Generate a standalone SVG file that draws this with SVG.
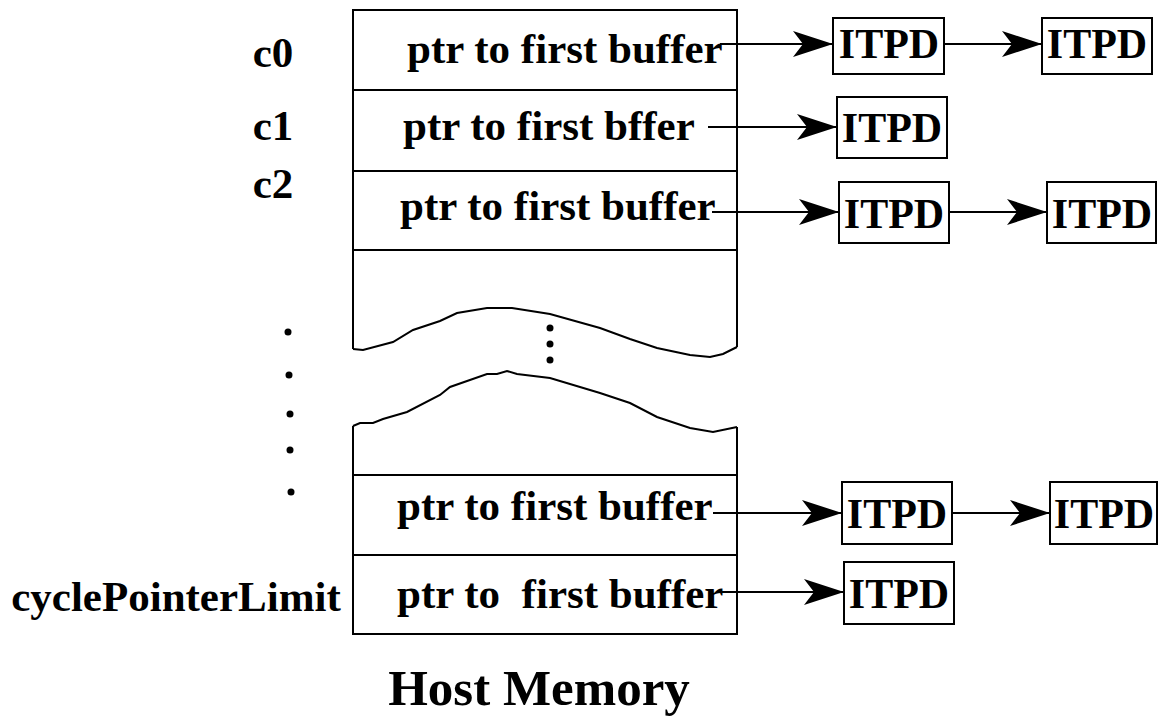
<svg xmlns="http://www.w3.org/2000/svg" width="1158" height="723" viewBox="0 0 1158 723">
<style>
.ln{fill:none;stroke:#000;stroke-width:2}
.t{font-family:"Liberation Serif","Times New Roman",serif;font-weight:bold;fill:#000}
.row{font-size:43px}
.lab{font-size:43px}
.box{fill:#fff;stroke:#000;stroke-width:2}
.itpd{font-size:42px;text-anchor:middle}
.dot{fill:#000}
</style>
<defs>
<marker id="ah" markerUnits="userSpaceOnUse" markerWidth="42" markerHeight="28" refX="40" refY="14" orient="auto" viewBox="0 0 42 28">
<path d="M0,1 L40,14 L0,27 L10,14 Z" fill="#000"/>
</marker>
</defs>
<g id="memory">
<path class="ln" d="M353,349 L353,10 L737,10 L737,347"/>
<path class="ln" d="M353,349 L363,350 L393,342 L413,330 L440,321 L457,313 L487,308 L512,308 L550,314 L600,328 L630,339 L657,348 L690,355 L710,357 L723,354 L737,347"/>
<line class="ln" x1="353" y1="90" x2="737" y2="90"/>
<line class="ln" x1="353" y1="171" x2="737" y2="171"/>
<line class="ln" x1="353" y1="250" x2="737" y2="250"/>
<path class="ln" d="M353,426 L360,423 L373,423 L383,419 L407,412 L440,395 L450,387 L487,374 L497,374 L507,371 L517,374 L550,378 L600,393 L630,403 L657,417 L690,428 L713,432 L737,427"/>
<path class="ln" d="M353,426 L353,634 L737,634 L737,427"/>
<line class="ln" x1="353" y1="475" x2="737" y2="475"/>
<line class="ln" x1="353" y1="555" x2="737" y2="555"/>
<circle class="dot" cx="550" cy="328" r="3.5"/>
<circle class="dot" cx="550" cy="344" r="3.5"/>
<circle class="dot" cx="550" cy="360" r="3.5"/>
<text class="t row" x="407" y="63">ptr to first buffer</text>
<text class="t row" x="403" y="140">ptr to first bffer</text>
<text class="t row" x="400" y="220">ptr to first buffer</text>
<text class="t row" x="397" y="520">ptr to first buffer</text>
<text class="t row" x="397" y="608" xml:space="preserve">ptr to  first buffer</text>
</g>
<g id="labels">
<text class="t lab" x="273" y="67" text-anchor="middle">c0</text>
<text class="t lab" x="273" y="140" text-anchor="middle">c1</text>
<text class="t lab" x="273" y="198" text-anchor="middle">c2</text>
<text class="t lab" x="176" y="611" text-anchor="middle">cyclePointerLimit</text>
<circle class="dot" cx="288" cy="332" r="3.5"/>
<circle class="dot" cx="289" cy="375" r="3.5"/>
<circle class="dot" cx="290" cy="414" r="3.5"/>
<circle class="dot" cx="290" cy="450" r="3.5"/>
<circle class="dot" cx="291" cy="492" r="3.5"/>
<text class="t" x="539" y="705" font-size="51" text-anchor="middle">Host Memory</text>
</g>
<g id="itpd-r1a"><rect class="box" x="833" y="18" width="111" height="56"/><text class="t itpd" x="889" y="58">ITPD</text></g>
<g id="itpd-r1b"><rect class="box" x="1042" y="18" width="110" height="56"/><text class="t itpd" x="1097" y="58">ITPD</text></g>
<g id="itpd-r2a"><rect class="box" x="837" y="97" width="110" height="61"/><text class="t itpd" x="892" y="142">ITPD</text></g>
<g id="itpd-r3a"><rect class="box" x="839" y="182" width="110" height="61"/><text class="t itpd" x="894" y="228">ITPD</text></g>
<g id="itpd-r3b"><rect class="box" x="1047" y="182" width="109" height="61"/><text class="t itpd" x="1102" y="228">ITPD</text></g>
<g id="itpd-r4a"><rect class="box" x="842" y="482" width="110" height="62"/><text class="t itpd" x="897" y="528">ITPD</text></g>
<g id="itpd-r4b"><rect class="box" x="1050" y="482" width="107" height="62"/><text class="t itpd" x="1104" y="528">ITPD</text></g>
<g id="itpd-r5a"><rect class="box" x="844" y="562" width="110" height="62"/><text class="t itpd" x="899" y="608">ITPD</text></g>
<g id="connectors" class="ln" marker-end="url(#ah)">
<line x1="720" y1="44" x2="833" y2="44"/>
<line x1="944" y1="44" x2="1042" y2="44"/>
<line x1="708" y1="127" x2="837" y2="127"/>
<line x1="712" y1="212" x2="839" y2="212"/>
<line x1="949" y1="212" x2="1047" y2="212"/>
<line x1="713" y1="513" x2="842" y2="513"/>
<line x1="952" y1="513" x2="1050" y2="513"/>
<line x1="722" y1="592" x2="844" y2="592"/>
</g>
</svg>
